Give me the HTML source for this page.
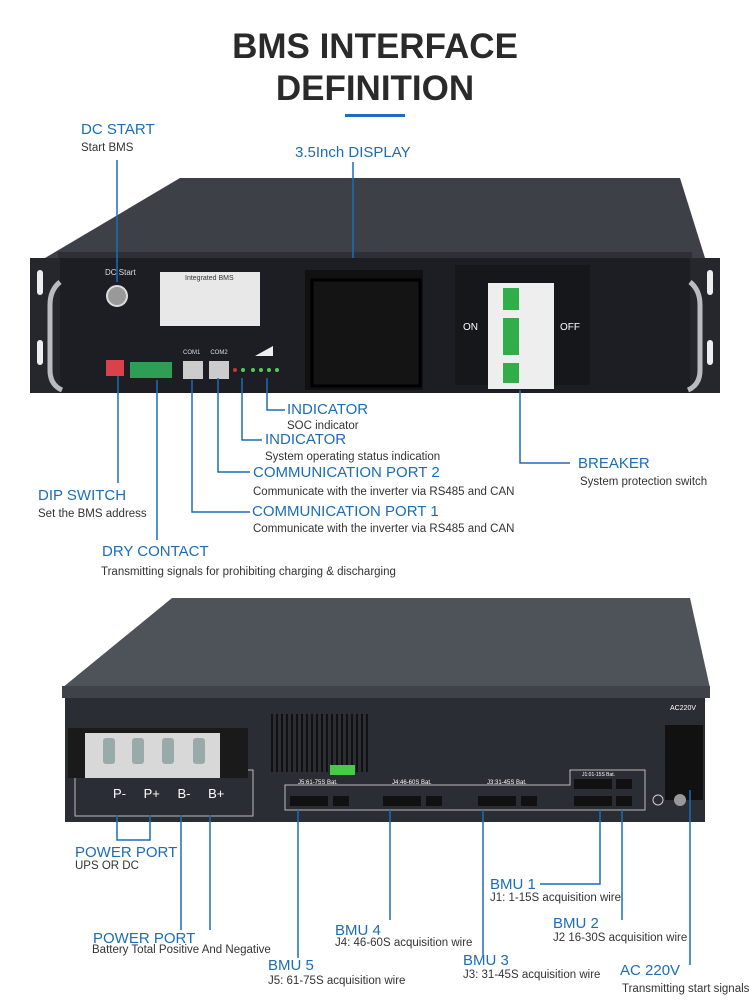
<!DOCTYPE html>
<html><head><meta charset="utf-8"><style>
body{margin:0;width:750px;height:1000px;background:#fff;overflow:hidden;font-family:"Liberation Sans",sans-serif;position:relative}
.t{position:absolute;white-space:nowrap}
.h{color:#1b6db8;font-size:15px}
.d{color:#333;font-size:11.5px}
</style></head><body>
<div class="t" style="left:0;width:750px;text-align:center;top:26px;font-size:35px;font-weight:bold;color:#2a2a2a;line-height:42px">BMS INTERFACE<br>DEFINITION</div>
<div class="t" style="left:345px;top:114px;width:60px;height:3px;background:#1b6db8"></div>

<svg width="750" height="1000" style="position:absolute;left:0;top:0">
<!-- top device -->
<polygon points="180,178 680,178 705,258 45,258" fill="#3d4047"/>
<rect x="58" y="252" width="634" height="6" fill="#2e3036"/>
<rect x="30" y="258" width="690" height="135" fill="#1c1e24"/>
<rect x="30" y="258" width="30" height="135" fill="#25272d"/>
<rect x="690" y="258" width="30" height="135" fill="#25272d"/>
<rect x="37" y="270" width="6" height="25" rx="3" fill="#eee"/>
<rect x="37" y="340" width="6" height="25" rx="3" fill="#eee"/>
<rect x="707" y="270" width="6" height="25" rx="3" fill="#eee"/>
<rect x="707" y="340" width="6" height="25" rx="3" fill="#eee"/>
<path d="M60,282 Q50,290 50,305 L50,370 Q50,385 62,390" stroke="#b9bcc0" stroke-width="5" fill="none"/>
<path d="M690,282 Q700,290 700,305 L700,370 Q700,385 688,390" stroke="#b9bcc0" stroke-width="5" fill="none"/>
<circle cx="117" cy="296" r="10" fill="#999" stroke="#ddd" stroke-width="2"/>
<rect x="160" y="272" width="100" height="54" fill="#e8e8e8"/>
<rect x="305" y="270" width="118" height="120" fill="#111"/>
<rect x="312" y="280" width="108" height="106" fill="#141414" stroke="#000" stroke-width="3"/>
<rect x="455" y="265" width="135" height="120" fill="#15171b"/>
<rect x="488" y="283" width="66" height="106" fill="#eee"/>
<rect x="503" y="288" width="16" height="95" fill="#2fae4a"/>
<rect x="503" y="310" width="16" height="8" fill="#eee"/>
<rect x="503" y="355" width="16" height="8" fill="#eee"/>
<rect x="106" y="360" width="18" height="16" fill="#d9424a"/>
<rect x="130" y="362" width="42" height="16" fill="#2e9d55"/>
<rect x="183" y="361" width="20" height="18" fill="#ccc"/>
<rect x="209" y="361" width="20" height="18" fill="#ccc"/>
<g fill="#5c5">
<circle cx="235" cy="370" r="2" fill="#c33"/><circle cx="243" cy="370" r="2"/><circle cx="253" cy="370" r="2"/><circle cx="261" cy="370" r="2"/><circle cx="269" cy="370" r="2"/><circle cx="277" cy="370" r="2"/></g>
<polygon points="255,356 273,346 273,356" fill="#eee"/>
<!-- callout lines top -->
<g stroke="#1b6db8" stroke-width="1.5" fill="none">
<path d="M117,160 V282"/>
<path d="M353,162 V258"/>
<path d="M267,378 V410 H285"/>
<path d="M242,378 V440 H262"/>
<path d="M218,378 V472 H250"/>
<path d="M192,380 V512 H250"/>
<path d="M520,390 V463 H570"/>
<path d="M118,376 V483"/>
<path d="M157,380 V540"/>
</g>
<!-- bottom device -->
<polygon points="172,598 690,598 710,688 62,688" fill="#4e5259"/>
<rect x="62" y="686" width="648" height="12" fill="#3f4248"/>
<rect x="65" y="698" width="640" height="124" fill="#2a2d33"/>
<rect x="75" y="770" width="178" height="46" fill="none" stroke="#bbb" stroke-width="1"/>
<rect x="68" y="728" width="180" height="50" fill="#1a1a1a"/>
<rect x="85" y="733" width="135" height="45" fill="#d8d8d8"/>
<g fill="#9aa"><rect x="103" y="738" width="12" height="26" rx="3"/><rect x="132" y="738" width="12" height="26" rx="3"/><rect x="162" y="738" width="12" height="26" rx="3"/><rect x="193" y="738" width="12" height="26" rx="3"/></g>
<g stroke="#111" stroke-width="2">
<path d="M272,772 V714 M277,772 V714 M282,772 V714 M287,772 V714 M292,772 V714 M297,772 V714 M302,772 V714 M307,772 V714 M312,772 V714 M317,772 V714 M322,772 V714 M327,772 V714 M332,772 V714 M337,772 V714 M342,772 V714 M347,772 V714 M352,772 V714 M357,772 V714 M362,772 V714 M367,772 V714"/>
</g>
<rect x="330" y="765" width="25" height="10" fill="#4c4"/>
<path d="M285,810 V785 H570 V770 H645 V810 Z" fill="none" stroke="#bbb" stroke-width="1"/>
<rect x="665" y="725" width="38" height="75" fill="#111"/>
<g fill="#111">
<rect x="290" y="796" width="38" height="10"/><rect x="333" y="796" width="16" height="10"/>
<rect x="383" y="796" width="38" height="10"/><rect x="426" y="796" width="16" height="10"/>
<rect x="478" y="796" width="38" height="10"/><rect x="521" y="796" width="16" height="10"/>
<rect x="574" y="796" width="38" height="10"/><rect x="616" y="796" width="16" height="10"/>
<rect x="574" y="779" width="38" height="10"/><rect x="616" y="779" width="16" height="10"/>
</g>
<circle cx="680" cy="800" r="6" fill="#999"/><circle cx="658" cy="800" r="5" fill="none" stroke="#ccc"/>
<g stroke="#1b6db8" stroke-width="1.5" fill="none">
<path d="M117,815 V840 H150 V815"/>
<path d="M181,815 V930"/>
<path d="M210,815 V930"/>
<path d="M298,810 V958"/>
<path d="M390,810 V920"/>
<path d="M483,810 V955"/>
<path d="M600,810 V884 H540"/>
<path d="M622,810 V920"/>
<path d="M690,790 V965"/>
</g>
</svg>
<div class="t" style="left:105px;top:268px;color:#ddd;font-size:8px">DC Start</div>
<div class="t" style="left:185px;top:275px;color:#333;font-size:7px">Integrated BMS</div>
<div class="t" style="left:463px;top:322px;color:#fff;font-size:10px">ON</div>
<div class="t" style="left:560px;top:322px;color:#fff;font-size:10px">OFF</div>
<div class="t" style="left:183px;top:350px;color:#ddd;font-size:6px">COM1 &nbsp;&nbsp;&nbsp;&nbsp; COM2</div>
<div class="t" style="left:113px;top:786px;color:#fff;font-size:13px;word-spacing:14px">P- P+ B- B+</div>
<div class="t" style="left:670px;top:705px;color:#fff;font-size:7px">AC220V</div>
<div class="t" style="left:298px;top:780px;color:#fff;font-size:6px">J5:61-75S Bat.</div>
<div class="t" style="left:392px;top:780px;color:#fff;font-size:6px">J4:46-60S Bat.</div>
<div class="t" style="left:487px;top:780px;color:#fff;font-size:6px">J3:31-45S Bat.</div>
<div class="t" style="left:582px;top:772px;color:#fff;font-size:5px">J1:01-15S Bat.</div>

<div class="t h" style="left:81px;top:121px">DC START</div>
<div class="t d" style="left:81px;top:142px">Start BMS</div>
<div class="t h" style="left:295px;top:144px">3.5Inch DISPLAY</div>
<div class="t h" style="left:287px;top:401px">INDICATOR</div>
<div class="t d" style="left:287px;top:420px">SOC indicator</div>
<div class="t h" style="left:265px;top:431px">INDICATOR</div>
<div class="t d" style="left:265px;top:451px">System operating status indication</div>
<div class="t h" style="left:253px;top:464px">COMMUNICATION PORT 2</div>
<div class="t d" style="left:253px;top:486px">Communicate with the inverter via RS485 and CAN</div>
<div class="t h" style="left:578px;top:455px">BREAKER</div>
<div class="t d" style="left:580px;top:476px">System protection switch</div>
<div class="t h" style="left:38px;top:487px">DIP SWITCH</div>
<div class="t d" style="left:38px;top:508px">Set the BMS address</div>
<div class="t h" style="left:252px;top:503px">COMMUNICATION PORT 1</div>
<div class="t d" style="left:253px;top:523px">Communicate with the inverter via RS485 and CAN</div>
<div class="t h" style="left:102px;top:543px">DRY CONTACT</div>
<div class="t d" style="left:101px;top:566px">Transmitting signals for prohibiting charging &amp; discharging</div>

<div class="t h" style="left:75px;top:844px">POWER PORT</div>
<div class="t d" style="left:75px;top:860px">UPS OR DC</div>
<div class="t h" style="left:93px;top:930px">POWER PORT</div>
<div class="t d" style="left:92px;top:944px">Battery Total Positive And Negative</div>
<div class="t h" style="left:268px;top:957px">BMU 5</div>
<div class="t d" style="left:268px;top:975px">J5: 61-75S acquisition wire</div>
<div class="t h" style="left:335px;top:922px">BMU 4</div>
<div class="t d" style="left:335px;top:937px">J4: 46-60S acquisition wire</div>
<div class="t h" style="left:463px;top:952px">BMU 3</div>
<div class="t d" style="left:463px;top:969px">J3: 31-45S acquisition wire</div>
<div class="t h" style="left:490px;top:876px">BMU 1</div>
<div class="t d" style="left:490px;top:892px">J1: 1-15S acquisition wire</div>
<div class="t h" style="left:553px;top:915px">BMU 2</div>
<div class="t d" style="left:553px;top:932px">J2 16-30S acquisition wire</div>
<div class="t h" style="left:620px;top:962px">AC 220V</div>
<div class="t d" style="left:622px;top:983px">Transmitting start signals</div>
</body></html>
